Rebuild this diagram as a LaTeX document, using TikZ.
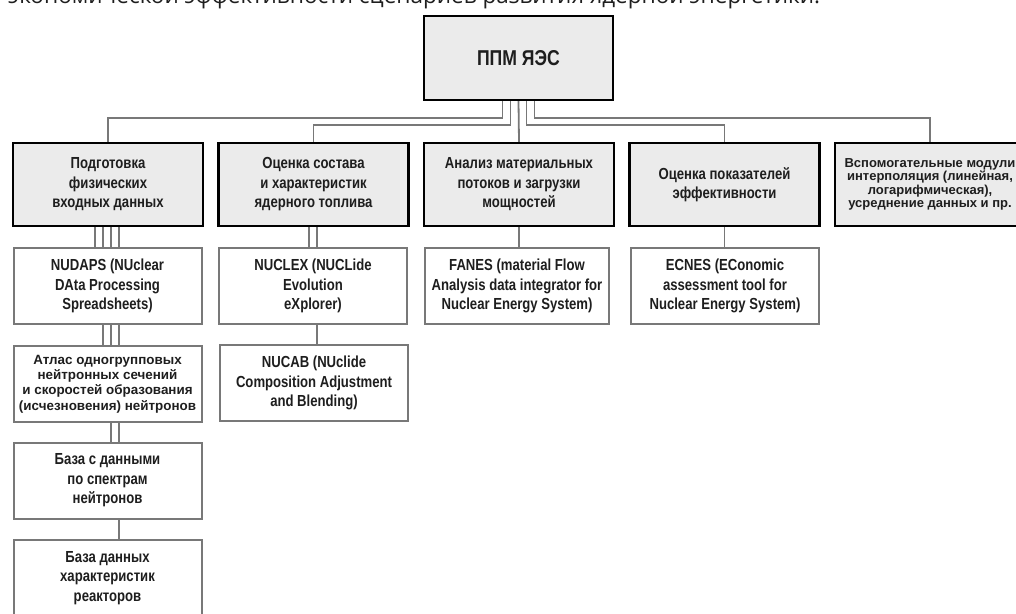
\documentclass[tikz,border=0pt]{standalone}
\usepackage{fontspec}
\setmainfont{Liberation Sans}[FakeStretch=0.82]
\newfontfamily\plainfont{Liberation Sans}
\newfontfamily\headfont{Open Sans}
\usetikzlibrary{backgrounds}
\definecolor{boxgray}{HTML}{EBEBEB}
\definecolor{linegray}{HTML}{787878}
\definecolor{inkgray}{HTML}{1E1E1E}
\tikzset{
  topbox/.style={draw=black, line width=2.2pt, fill=boxgray, minimum width=189pt,
    minimum height=84pt, text=inkgray, font=\bfseries\fontsize{21.5}{24}\selectfont},
  groupbox/.style={draw=black, line width=2.2pt, fill=boxgray, minimum width=190pt,
    minimum height=83pt, align=center, text=inkgray,
    font=\bfseries\fontsize{16}{19.5}\selectfont},
  toolbox/.style={draw=linegray, line width=2pt, fill=white, minimum width=188pt,
    minimum height=76pt, align=center, text=inkgray,
    font=\bfseries\fontsize{16}{19.5}\selectfont},
  link/.style={draw=linegray, line width=1.8pt}
}

\begin{document}
\begin{tikzpicture}[x=1pt, y=-1pt]
  \useasboundingbox (0,0) rectangle (1016,613);

  % cut-off caption line above the chart
  \node[anchor=base west, inner sep=0pt, text=inkgray,
    font=\headfont\fontsize{22.5}{25}\selectfont] (caption) at (8,3.2)
    {экономической эффективности сценариев развития ядерной энергетики.};

  % main block
  \node[topbox] (ppm) at (518.5,58) {ППМ ЯЭС};

  % second level
  \node[groupbox] (prep) at (108,184.5) {Подготовка\\физических\\входных данных};
  \node[groupbox] (fuel) at (313.5,184.5) {Оценка состава\\и характеристик\\ядерного топлива};
  \node[groupbox] (flow) at (519,184.5) {Анализ материальных\\потоков и загрузки\\мощностей};
  \node[groupbox] (eff) at (724.5,184.5) {Оценка показателей\\эффективности};
  \node[groupbox, font=\plainfont\bfseries\fontsize{13}{13.3}\selectfont] (aux) at (930,184.5)
    {Вспомогательные модули\\интерполяция (линейная,\\логарифмическая),\\усреднение данных и пр.};

  % tools
  \node[toolbox] (nudaps) at (107.5,286) {NUDAPS (NUclear\\DAta Processing\\Spreadsheets)};
  \node[toolbox, font=\plainfont\bfseries\fontsize{13.4}{15.4}\selectfont] (atlas) at (107.5,384)
    {Атлас одногрупповых\\нейтронных сечений\\и скоростей образования\\(исчезновения) нейтронов};
  \node[toolbox] (spectra) at (107.5,480.5) {База с данными\\по спектрам\\нейтронов};
  \node[toolbox] (reactors) at (107.5,578) {База данных\\характеристик\\реакторов};

  \node[toolbox] (nuclex) at (313,286) {NUCLEX (NUCLide\\Evolution\\eXplorer)};
  \node[toolbox] (nucab) at (314,383) {NUCAB (NUclide\\Composition Adjustment\\and Blending)};

  \node[toolbox, minimum width=184pt] (fanes) at (517,286)
    {FANES (material Flow\\Analysis data integrator for\\Nuclear Energy System)};
  \node[toolbox] (ecnes) at (725,286)
    {ECNES (EConomic\\assessment tool for\\Nuclear Energy System)};

  % connectors
  \begin{pgfonlayer}{background}
    \draw[link] ([xshift=-16pt]ppm.south) -- ++(0,17) -| (prep.north);
    \draw[link] ([xshift=-8pt]ppm.south) -- ++(0,24) -| (fuel.north);
    \draw[link] (ppm.south) -- (flow.north);
    \draw[link] ([xshift=8pt]ppm.south) -- ++(0,24) -| (eff.north);
    \draw[link] ([xshift=16pt]ppm.south) -- ++(0,17) -| (aux.north);

    \foreach \dx/\tgt in {-13/nudaps, -5/atlas, 3/spectra, 11/reactors}
      \draw[link] ([xshift=\dx pt]prep.south) -- ([xshift=\dx pt]prep.south |- \tgt.north);
    \foreach \dx/\tgt in {-4.5/nuclex, 3.5/nucab}
      \draw[link] ([xshift=\dx pt]fuel.south) -- ([xshift=\dx pt]fuel.south |- \tgt.north);
    \draw[link] (flow.south) -- (flow.south |- fanes.north);
    \draw[link] (eff.south) -- (eff.south |- ecnes.north);
  \end{pgfonlayer}
\end{tikzpicture}
\end{document}
